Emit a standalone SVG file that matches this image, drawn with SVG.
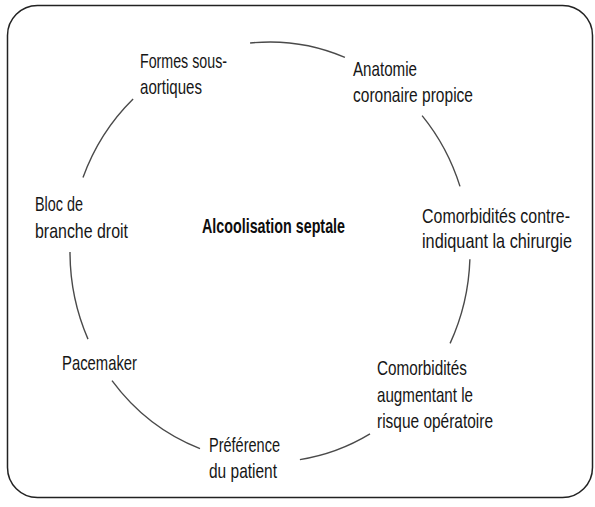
<svg xmlns="http://www.w3.org/2000/svg" width="595" height="507" viewBox="0 0 595 507">
<style>
.lbl{font-family:"Liberation Sans","DejaVu Sans",sans-serif;font-size:17px;fill:#161616;}
.ctr{font-family:"Liberation Sans","DejaVu Sans",sans-serif;font-size:17px;font-weight:bold;fill:#0d0d0d;}
.arc{fill:none;stroke:#4a4a4a;stroke-width:1.4;}
</style>
<rect x="0" y="0" width="595" height="507" fill="#fff"/>
<rect x="7.5" y="5.5" width="585" height="492" rx="30" ry="30" fill="#fff" stroke="#222" stroke-width="1.5"/>
<g id="connectors">
<path class="arc" d="M250.1,43 A200,210 0 0 1 344.9,57.3"/>
<path class="arc" d="M422.1,115.6 A200,210 0 0 1 460,186.4"/>
<path class="arc" d="M469.9,259.3 A200,210 0 0 1 450.1,343.4"/>
<path class="arc" d="M370,433.9 A200,210 0 0 1 299.9,459.6"/>
<path class="arc" d="M200,448.7 A200,210 0 0 1 112,380.7"/>
<path class="arc" d="M88,339.1 A200,210 0 0 1 70,252"/>
<path class="arc" d="M83,177.4 A200,210 0 0 1 133.1,98.9"/>
</g>
<g id="center">
<text class="ctr" transform="translate(202,233) scale(1,1.2)" textLength="143" lengthAdjust="spacingAndGlyphs">Alcoolisation septale</text>
</g>
<g id="formes">
<text class="lbl" transform="translate(140,68) scale(1,1.2)" textLength="87" lengthAdjust="spacingAndGlyphs">Formes sous-</text>
<text class="lbl" transform="translate(140,94) scale(1,1.2)" textLength="62" lengthAdjust="spacingAndGlyphs">aortiques</text>
</g>
<g id="anatomie">
<text class="lbl" transform="translate(353,76) scale(1,1.2)" textLength="64" lengthAdjust="spacingAndGlyphs">Anatomie</text>
<text class="lbl" transform="translate(353,102) scale(1,1.2)" textLength="120" lengthAdjust="spacingAndGlyphs">coronaire propice</text>
</g>
<g id="comorb-contre">
<text class="lbl" transform="translate(422,223) scale(1,1.2)" textLength="148" lengthAdjust="spacingAndGlyphs">Comorbidités contre-</text>
<text class="lbl" transform="translate(422,248) scale(1,1.2)" textLength="150" lengthAdjust="spacingAndGlyphs">indiquant la chirurgie</text>
</g>
<g id="comorb-risque">
<text class="lbl" transform="translate(377,375) scale(1,1.2)" textLength="90" lengthAdjust="spacingAndGlyphs">Comorbidités</text>
<text class="lbl" transform="translate(377,402) scale(1,1.2)" textLength="96" lengthAdjust="spacingAndGlyphs">augmentant le</text>
<text class="lbl" transform="translate(377,428) scale(1,1.2)" textLength="116" lengthAdjust="spacingAndGlyphs">risque opératoire</text>
</g>
<g id="preference">
<text class="lbl" transform="translate(209,452) scale(1,1.2)" textLength="71" lengthAdjust="spacingAndGlyphs">Préférence</text>
<text class="lbl" transform="translate(209,478) scale(1,1.2)" textLength="68" lengthAdjust="spacingAndGlyphs">du patient</text>
</g>
<g id="pacemaker">
<text class="lbl" transform="translate(62,370) scale(1,1.2)" textLength="75" lengthAdjust="spacingAndGlyphs">Pacemaker</text>
</g>
<g id="bloc">
<text class="lbl" transform="translate(35,211) scale(1,1.2)" textLength="48" lengthAdjust="spacingAndGlyphs">Bloc de</text>
<text class="lbl" transform="translate(35,238) scale(1,1.2)" textLength="93" lengthAdjust="spacingAndGlyphs">branche droit</text>
</g>
</svg>
